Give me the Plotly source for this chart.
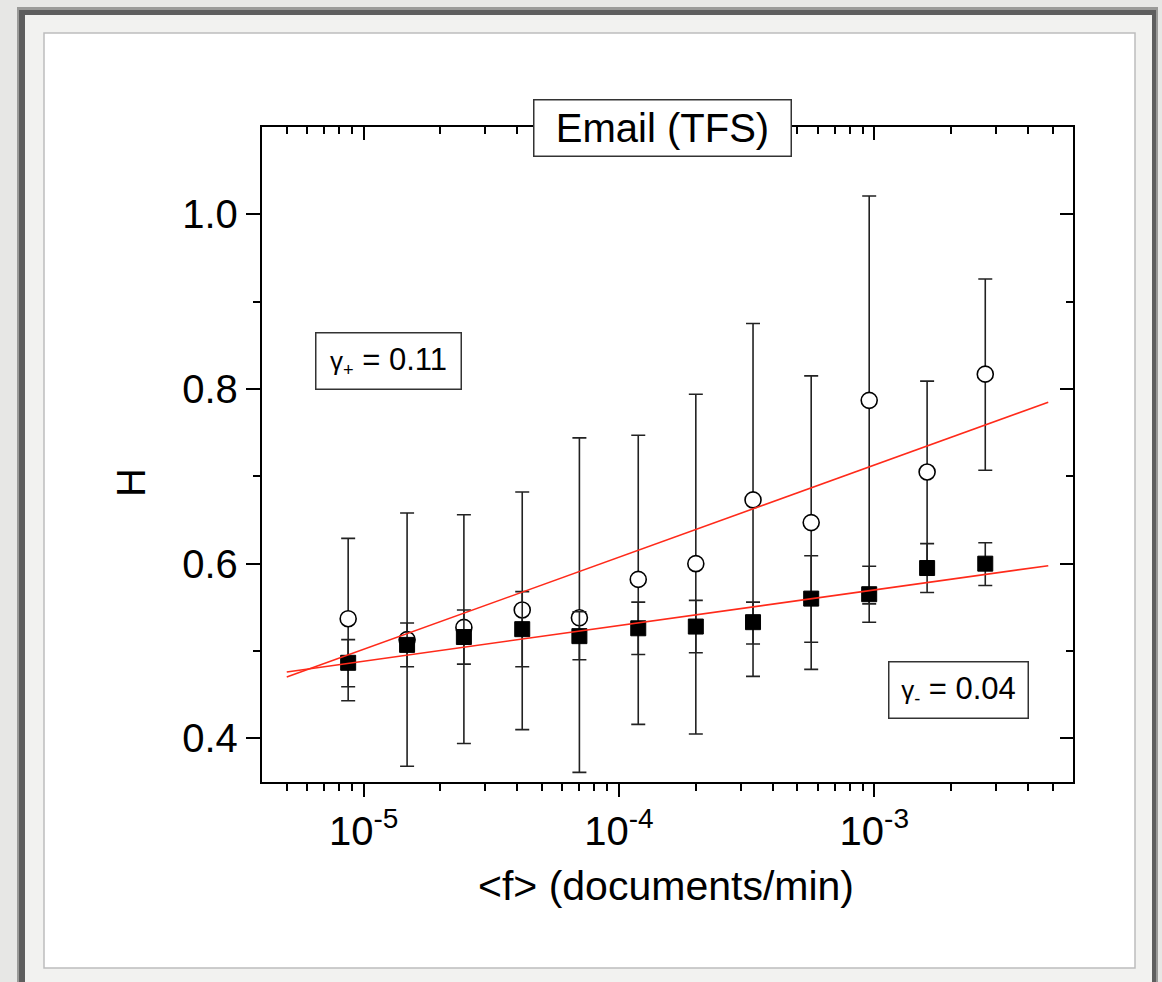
import numpy as np
import plotly.graph_objects as go

# Mean activity <f> (documents/min), log-spaced bins
f_mean = [8.7e-6, 1.48e-5, 2.47e-5, 4.18e-5, 7.0e-5, 1.19e-4,
          2.0e-4, 3.35e-4, 5.66e-4, 9.55e-4, 1.61e-3, 2.72e-3]

# Hurst exponent, open circles (+) with error bar ends
h_plus = [0.537, 0.513, 0.527, 0.547, 0.538, 0.582,
          0.600, 0.673, 0.647, 0.787, 0.705, 0.817]
h_plus_hi = [0.629, 0.658, 0.656, 0.682, 0.744, 0.747,
             0.794, 0.875, 0.815, 1.021, 0.809, 0.926]
h_plus_lo = [0.443, 0.368, 0.394, 0.410, 0.361, 0.416,
             0.405, 0.471, 0.479, 0.554, 0.601, 0.707]

# Hurst exponent, filled squares (-) with error bar ends
h_minus = [0.4865, 0.507, 0.516, 0.525, 0.517, 0.526,
           0.528, 0.533, 0.560, 0.565, 0.595, 0.600]
h_minus_hi = [0.513, 0.532, 0.547, 0.568, 0.545, 0.556,
              0.558, 0.556, 0.609, 0.597, 0.623, 0.624]
h_minus_lo = [0.459, 0.482, 0.485, 0.482, 0.490, 0.496,
              0.498, 0.508, 0.510, 0.533, 0.567, 0.575]

# Linear fits H = a + gamma * log10(<f>)
gamma_plus, a_plus = 0.1055, 1.0294
gamma_minus, a_minus = 0.0408, 0.6923
fit_range = [5e-6, 4.8e-3]

x_ticks = [1e-5, 1e-4, 1e-3]
x_ticktext = ["10<sup>-5</sup>", "10<sup>-4</sup>", "10<sup>-3</sup>"]
x_minor = [m * 10.0 ** e for e in (-6, -5, -4, -3) for m in range(2, 10)
           if 4e-6 < m * 10.0 ** e < 6e-3]
y_ticks = [0.4, 0.6, 0.8, 1.0]
y_ticktext = ["0.4", "0.6", "0.8", "1.0"]
y_minor = [0.5, 0.7, 0.9]

FONT = "Liberation Sans, Arial, sans-serif"
W, H = 1162, 982
L, R, T, B = 262, 89, 127, 200


def px(x):
    return (x - L) / (W - L - R)


def py(y):
    return (H - B - y) / (H - T - B)


def err(center, hi, lo):
    up = [h - c for h, c in zip(hi, center)]
    dn = [c - l for c, l in zip(center, lo)]
    return up, dn


fig = go.Figure()

# empty trace so the mirrored top/right axes get their own subplot
fig.add_trace(go.Scatter(x=[], y=[], xaxis="x2", yaxis="y2",
                         showlegend=False, hoverinfo="skip"))

up, dn = err(h_plus, h_plus_hi, h_plus_lo)
fig.add_trace(go.Scatter(
    x=f_mean, y=h_plus, mode="markers",
    marker=dict(symbol="circle", size=16, color="white",
                line=dict(color="black", width=1.6)),
    error_y=dict(type="data", symmetric=False, array=up, arrayminus=dn,
                 color="#222", thickness=1.6, width=7),
    showlegend=False, hoverinfo="skip"))

up, dn = err(h_minus, h_minus_hi, h_minus_lo)
fig.add_trace(go.Scatter(
    x=f_mean, y=h_minus, mode="markers",
    marker=dict(symbol="square", size=15, color="black",
                line=dict(color="black", width=1)),
    error_y=dict(type="data", symmetric=False, array=up, arrayminus=dn,
                 color="#222", thickness=1.6, width=7),
    showlegend=False, hoverinfo="skip"))

lf = np.log10(fit_range)
for a, g in ((a_plus, gamma_plus), (a_minus, gamma_minus)):
    fig.add_trace(go.Scatter(
        x=fit_range, y=a + g * lf, mode="lines",
        line=dict(color="#ff2a1a", width=1.6),
        showlegend=False, hoverinfo="skip"))

# Page frame: grey card with dark edge and a white panel
shapes = [
    dict(type="rect", xref="paper", yref="paper",
         x0=px(17), x1=px(1158), y0=py(7), y1=py(1000),
         fillcolor="#9a9a98", line=dict(width=0), layer="below"),
    dict(type="rect", xref="paper", yref="paper",
         x0=px(19), x1=px(1156), y0=py(10), y1=py(1000),
         fillcolor="#5e5e5e", line=dict(width=0), layer="below"),
    dict(type="rect", xref="paper", yref="paper",
         x0=px(25), x1=px(1152), y0=py(15), y1=py(1000),
         fillcolor="#f2f2f0", line=dict(width=0), layer="below"),
    dict(type="rect", xref="paper", yref="paper",
         x0=px(44), x1=px(1135), y0=py(33), y1=py(968),
         fillcolor="white", line=dict(color="#bdbdbd", width=1.5),
         layer="below"),
]

annotations = [
    dict(text="Email (TFS)", xref="paper", yref="paper",
         x=px(662), y=py(128), xanchor="center", yanchor="middle",
         showarrow=False, font=dict(family=FONT, size=40, color="black"),
         bgcolor="white", bordercolor="#333", borderwidth=1.5,
         width=254, height=53, borderpad=1),
    dict(text="<span style='font-size:26px'>γ<sub>+</sub></span> = "
              + f"{gamma_plus:.2f}",
         xref="paper", yref="paper", x=px(388), y=py(361),
         xanchor="center", yanchor="middle", showarrow=False,
         font=dict(family=FONT, size=31, color="black"),
         bgcolor="white", bordercolor="#333", borderwidth=1.5,
         width=142, height=53, borderpad=1),
    dict(text="<span style='font-size:26px'>γ<sub>-</sub></span> = "
              + f"{gamma_minus:.2f}",
         xref="paper", yref="paper", x=px(958), y=py(690),
         xanchor="center", yanchor="middle", showarrow=False,
         font=dict(family=FONT, size=31, color="black"),
         bgcolor="white", bordercolor="#333", borderwidth=1.5,
         width=136, height=53, borderpad=1),
    dict(text="&lt;f&gt; (documents/min)", xref="paper", yref="paper",
         x=px(666), y=py(886), xanchor="center", yanchor="middle",
         showarrow=False, font=dict(family=FONT, size=41, color="black")),
    dict(text="H", xref="paper", yref="paper", textangle=-90,
         x=px(131), y=py(483), xanchor="center", yanchor="middle",
         showarrow=False, font=dict(family=FONT, size=40, color="black")),
]

xr = [np.log10(4e-6), np.log10(6e-3)]
yr = [0.35, 1.1]
axis_common = dict(showline=True, linecolor="black", linewidth=2.4,
                   showgrid=False, zeroline=False, tickcolor="black",
                   tickwidth=2.2)
minor_common = dict(ticklen=7, tickwidth=2.2, tickcolor="black")

fig.update_layout(
    width=W, height=H,
    margin=dict(l=L, r=R, t=T, b=B, pad=0),
    paper_bgcolor="#e7e7e5", plot_bgcolor="rgba(0,0,0,0)",
    font=dict(family=FONT, color="black"),
    shapes=shapes, annotations=annotations,
    xaxis=dict(type="log", range=xr, ticks="outside", ticklen=13,
               tickvals=x_ticks, ticktext=x_ticktext,
               tickfont=dict(size=40), ticklabelstandoff=0,
               minor=dict(tickvals=x_minor, ticks="outside", **minor_common),
               **axis_common),
    xaxis2=dict(type="log", range=xr, overlaying="x", side="top",
                anchor="y2", ticks="inside", ticklen=13, tickvals=x_ticks,
                showticklabels=False,
                minor=dict(tickvals=x_minor, ticks="inside", **minor_common),
                **axis_common),
    yaxis=dict(range=yr, ticks="outside", ticklen=14, tickvals=y_ticks,
               ticktext=y_ticktext, tickfont=dict(size=40),
               ticklabelstandoff=0,
               minor=dict(tickvals=y_minor, ticks="outside", **minor_common),
               **axis_common),
    yaxis2=dict(range=yr, overlaying="y", side="right", anchor="x2",
                ticks="inside", ticklen=13, tickvals=y_ticks,
                showticklabels=False,
                minor=dict(tickvals=y_minor, ticks="inside", **minor_common),
                **axis_common),
)

fig.write_html("out.html")
